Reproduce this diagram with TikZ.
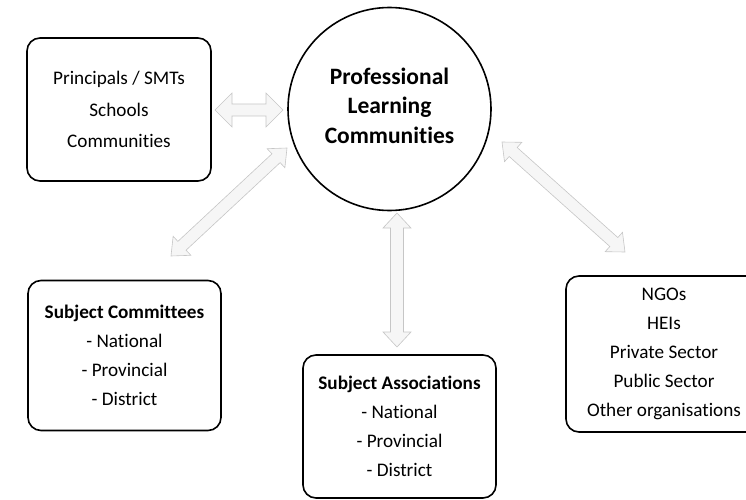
\documentclass[tikz,border=0pt]{standalone}
\usepackage{fontspec}
\setmainfont{Carlito}[Ligatures=NoCommon]
\usetikzlibrary{calc}
\tikzset{
  box/.style={draw=black, line width=1.6pt, rounded corners=13pt, align=center,
    inner sep=0pt, font=\fontsize{19.2}{29}\selectfont},
  hub/.style={draw=black, line width=1.6pt, circle, inner sep=0pt},
  hubtext/.style={align=center, inner sep=0pt, font=\fontsize{23.5}{29.5}\selectfont\bfseries},
  blockarrow/.style={draw=gray!45, line width=0.6pt, fill=gray!7, line join=miter}
}
\newcommand{\dblarrow}[5]{% A, B, head length, head half width, shaft half width
  \path[blockarrow] (#1)
    -- ($(#1)!#3!(#2)!#4!90:(#2)$)
    -- ($(#1)!#3!(#2)!#5!90:(#2)$)
    -- ($(#2)!#3!(#1)!#5!-90:(#1)$)
    -- ($(#2)!#3!(#1)!#4!-90:(#1)$)
    -- (#2)
    -- ($(#2)!#3!(#1)!#4!90:(#1)$)
    -- ($(#2)!#3!(#1)!#5!90:(#1)$)
    -- ($(#1)!#3!(#2)!#5!-90:(#2)$)
    -- ($(#1)!#3!(#2)!#4!-90:(#2)$)
    -- cycle;}
\begin{document}
\begin{tikzpicture}[x=1pt,y=-1pt]
\useasboundingbox (0,0) rectangle (746,500);
\clip (0,0) rectangle (746,500);

\node[hub, minimum size=203pt] (plc) at (389.5,109) {};
\node[hubtext] (plctext) at (389.5,105.5) {Professional\\Learning\\Communities};

\node[box, minimum width=184pt, minimum height=143pt,
  font=\fontsize{19.2}{31.5}\selectfont] (prin) at (119,109.5)
  {Principals / SMTs\\Schools\\Communities};

\node[box, minimum width=193pt, minimum height=150pt] (comm) at (124.5,355.5)
  {\textbf{Subject Committees}\\- National\\- Provincial\\- District};

\node[box, minimum width=193pt, minimum height=143pt] (assoc) at (399.5,426.5)
  {\textbf{Subject Associations}\\- National\\- Provincial\\- District};

\node[box, minimum width=196pt, minimum height=156pt] (org) at (664,354)
  {NGOs\\HEIs\\Private Sector\\Public Sector\\Other organisations};

% arrow end points
\coordinate (a1) at (215,110);
\coordinate (a2) at (283,110);
\coordinate (b1) at (171,256);
\coordinate (b2) at (287,148);
\coordinate (c1) at (397,213);
\coordinate (c2) at (397,347);
\coordinate (d1) at (502,142);
\coordinate (d2) at (625,252);

\dblarrow{a1}{a2}{17pt}{17pt}{6pt}
\dblarrow{b1}{b2}{15pt}{13pt}{6pt}
\dblarrow{c1}{c2}{15pt}{14pt}{6.5pt}
\dblarrow{d1}{d2}{15pt}{13pt}{6pt}
\end{tikzpicture}
\end{document}
